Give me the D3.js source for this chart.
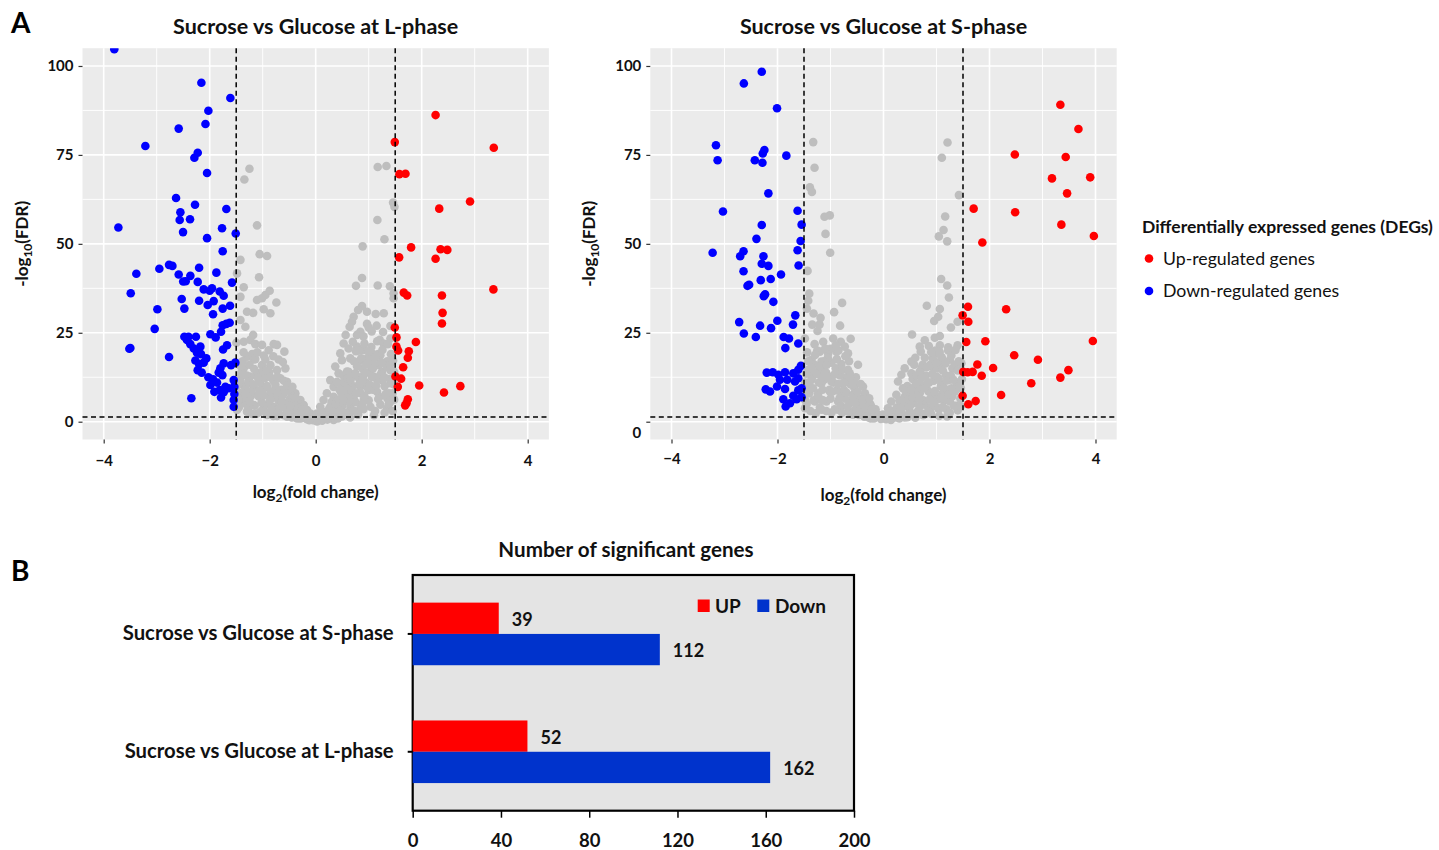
<!DOCTYPE html>
<html><head><meta charset="utf-8">
<script src="https://cdn.jsdelivr.net/npm/d3@7"></script>
<style>body{margin:0;background:#fff} svg{display:block} text{font-family:Lato,'Open Sans',sans-serif}</style>
</head><body><svg id="c" width="1439" height="850"></svg>
<script>
// ---------------- DATA ----------------
const volcanoTitles = ["Sucrose vs Glucose at L-phase", "Sucrose vs Glucose at S-phase"];
const xTicks = [-4, -2, 0, 2, 4];
const xMinorTicks = [-3, -1, 1, 3];
const yTicks = [0, 25, 50, 75, 100];
const yMinorTicks = [12.5, 37.5, 62.5, 87.5];
const fcCut = 1.5;
const fdrCut = 1.3;
const legendTitle = "Differentially expressed genes (DEGs)";
const legendLabels = ["Up-regulated genes", "Down-regulated genes"];

// L-phase: [log2FC, -log10(FDR)]
const L_down = [[-3.80,104.7],[-2.157,95.3],[-1.61,91.0],[-2.025,87.4],[-2.08,83.7],[-2.585,82.4],[-3.214,77.5],[-2.226,75.6],[-2.289,74.2],[-2.05,69.9],[-2.635,62.9],[-2.277,61.0],[-1.686,59.8],[-2.553,58.9],[-2.566,56.7],[-2.371,56.9],[-3.723,54.6],[-2.503,53.3],[-1.767,54.4],[-1.509,52.9],[-2.05,51.6],[-1.755,47.9],[-2.767,44.1],[-2.704,43.8],[-2.95,43.0],[-3.384,41.6],[-2.585,41.4],[-2.2,43.3],[-1.874,41.9],[-2.365,41.0],[-2.50,39.4],[-2.453,39.5],[-2.226,39.3],[-1.579,39.1],[-2.113,37.2],[-1.956,37.5],[-2.0,36.8],[-1.811,36.6],[-1.736,35.4],[-3.49,36.1],[-2.528,34.5],[-2.2,34.0],[-2.038,32.8],[-1.925,33.9],[-1.755,31.8],[-1.616,32.6],[-2.987,31.6],[-2.478,31.8],[-1.937,30.2],[-3.038,26.1],[-1.755,27.1],[-1.686,27.5],[-1.623,27.8],[-1.786,25.3],[-1.987,24.6],[-1.887,23.7],[-3.497,20.7],[-3.516,20.5],[-2.767,18.2],[-2.478,23.9],[-2.40,23.9],[-2.26,23.9],[-2.428,23.0],[-2.365,21.8],[-2.30,20.6],[-2.176,21.1],[-2.24,19.4],[-2.164,19.0],[-1.748,20.3],[-1.673,21.5],[-2.063,17.8],[-2.27,17.2],[-2.2,16.2],[-2.113,16.6],[-2.226,14.5],[-2.151,13.8],[-2.025,12.5],[-1.937,11.9],[-1.862,11.0],[-1.987,10.3],[-1.912,8.4],[-1.811,8.9],[-1.736,8.3],[-1.786,6.8],[-2.346,6.6],[-1.547,4.2],[-1.547,6.1],[-1.535,7.8],[-1.535,9.8],[-1.547,11.7],[-1.516,16.6],[-1.597,15.9],[-1.799,15.0],[-1.736,16.4],[-1.83,13.8],[-1.76,13.1],[-1.704,9.8],[-1.641,9.4]];
const L_up = [[2.262,86.2],[1.492,78.6],[3.36,77.0],[1.58,69.6],[1.694,69.7],[2.912,61.9],[2.331,59.9],[1.80,49.0],[2.356,48.5],[2.483,48.3],[1.574,46.2],[2.262,45.8],[3.353,37.2],[1.662,36.3],[1.726,35.5],[2.382,35.5],[2.394,30.6],[2.382,27.6],[1.492,26.5],[1.524,23.7],[1.89,22.4],[1.524,21.1],[1.555,20.0],[1.757,19.8],[1.738,18.0],[1.65,15.3],[1.505,12.7],[1.612,12.1],[1.549,9.8],[1.953,10.2],[2.42,8.2],[2.729,10.0],[1.738,6.3],[1.713,5.2],[1.688,4.6]];
const L_ns = [[-1.25,71.1],[-1.346,68.1],[-1.107,55.2],[-1.42,45.5],[-1.057,47.1],[-0.918,46.6],[-1.484,41.7],[-1.069,40.6],[-1.358,37.8],[-1.42,35.1],[-1.107,34.2],[-0.95,35.6],[-0.868,36.8],[-1.013,34.7],[-0.742,33.5],[-1.296,30.9],[-1.18,30.6],[-0.981,31.6],[-0.855,30.5],[-1.42,28.6],[-1.327,26.7],[-1.18,24.4],[-1.497,22.2],[-1.358,22.5],[-1.233,23.0],[-1.138,21.8],[-1.013,21.6],[-0.792,21.8],[-0.73,21.6],[-0.887,20.1],[-0.591,19.7],[-1.296,18.3],[-1.17,17.5],[-1.013,15.9],[-0.855,15.9],[-0.73,14.5],[-0.572,15.0],[-1.358,15.0],[-1.233,12.7],[-1.075,13.6],[-0.918,12.7],[-0.667,12.2],[-0.541,11.2],[-1.42,11.7],[-1.327,9.8],[-1.17,9.8],[-0.981,9.4],[-0.761,9.4],[-0.478,9.4],[-0.384,8.0],[-1.42,8.0],[-1.233,7.0],[-1.075,7.2],[-0.855,7.0],[-0.667,6.6],[-0.478,6.6],[-0.289,6.1],[-0.226,4.7],[-1.358,5.2],[-1.17,4.7],[-0.981,4.2],[-0.792,4.2],[-0.604,4.2],[-0.415,4.2],[-0.164,3.3],[-0.10,2.3],[-1.484,3.3],[-1.296,2.8],[-1.107,2.3],[-0.918,1.9],[-0.73,1.6],[-0.541,1.4],[-0.352,0.9],[-0.164,0.7],[-0.038,0.5],[0.025,0.1],
 [1.17,71.6],[1.334,71.9],[1.46,61.6],[1.486,60.4],[1.164,56.7],[1.297,51.3],[0.886,49.3],[0.874,40.4],[0.76,38.2],[1.17,38.3],[1.40,38.1],[1.47,36.1],[1.47,34.7],[0.874,32.5],[0.80,31.4],[0.968,30.9],[1.132,30.3],[1.284,30.5],[0.716,29.5],[0.685,28.1],[0.968,27.5],[1.41,26.9],[0.64,26.7],[0.842,25.3],[1.057,25.4],[1.271,25.2],[0.565,24.4],[0.779,24.4],[1.208,23.0],[1.41,23.4],[0.527,22.0],[0.621,20.6],[0.779,21.1],[0.905,20.2],[1.063,19.2],[1.22,18.7],[0.464,19.2],[0.495,17.3],[0.653,17.8],[0.842,17.3],[1.03,16.9],[1.189,15.9],[1.41,14.5],[0.369,15.5],[0.432,13.6],[0.59,14.1],[0.748,13.6],[0.905,13.1],[1.095,12.7],[1.252,11.7],[1.41,10.8],[0.274,11.7],[0.338,9.8],[0.495,10.8],[0.653,10.3],[0.842,9.8],[1.0,8.9],[1.158,8.4],[1.379,8.0],[1.41,5.6],[1.347,3.7],[0.211,8.0],[0.148,6.1],[0.338,7.0],[0.527,7.0],[0.716,6.6],[0.905,6.1],[1.032,4.2],[0.085,4.2],[0.274,4.2],[0.464,4.2],[0.653,4.2],[0.842,3.7],[0.022,2.3],[0.211,2.3],[0.40,2.2],[0.59,1.9],[-0.04,0.9],[0.148,0.9],[0.338,0.5],
 [-1.45,4],[-1.4,6.5],[-1.35,10],[-1.3,13],[-1.25,16],[-1.2,19],[-1.15,4.5],[-1.1,7.5],[-1.05,11],[-1.0,14],[-0.95,17.5],[-0.9,5],[-0.85,8.5],[-0.8,11.5],[-0.75,3],[-0.7,6],[-0.65,9],[-0.6,11.5],[-0.55,3.5],[-0.5,6],[-0.45,7.5],[-0.4,3],[-0.35,5.5],[-0.3,4],[-0.25,2.5],[-0.2,3.2],[-0.15,1.5],[-0.1,1.2],[-0.05,0.4],[-1.48,8.5],[-1.42,13.5],[-1.38,17],[-1.28,3.5],[-1.22,8.5],[-1.12,13],[-1.02,5.5],[-0.92,10],[-0.88,14],[-0.78,6.8],[-0.68,4],[-0.62,7.5],[-0.52,9],[-0.42,5],[-0.32,2],[-0.22,1.5],[-0.6,1.8],[-0.9,2.5],[-1.2,2.2],[-1.0,3.2],[-0.8,1.6],[-0.45,1.2],[-0.3,0.9],
 [0.05,0.5],[0.1,1.5],[0.15,2.8],[0.2,1],[0.25,3.5],[0.3,5.5],[0.35,2.5],[0.4,6],[0.45,9],[0.5,4.5],[0.55,11],[0.6,7.5],[0.62,14],[0.65,3],[0.7,10],[0.72,17],[0.75,5.5],[0.8,12.5],[0.82,20],[0.85,8],[0.88,15],[0.9,3.5],[0.92,22],[0.95,11],[0.98,18],[1.0,6],[1.02,14],[1.05,21],[1.08,9],[1.1,16],[1.12,3],[1.15,12],[1.18,19],[1.2,7],[1.25,14],[1.28,22],[1.3,10],[1.35,17],[1.38,5],[1.4,12],[1.42,19],[1.45,8],[1.48,14],[0.5,1.5],[0.8,2],[1.1,1.8],[1.3,2.5],[0.35,0.8],[0.65,1.2],[1.45,3],
 [-0.45,2.2],[-0.38,1.6],[-0.27,1.0],[-0.12,0.4],[-0.58,5.2],[-0.72,8.2],[-0.86,6.1],[-1.33,6.8],[-1.46,10.5],[-1.26,10.8],[0.12,0.3],[0.22,0.6],[0.3,1.6],[0.42,0.9],[0.45,3.2],[0.56,2.6],[0.72,3.1],[0.62,5.6],[0.88,5.0],[0.98,9.6],[1.22,4.8],[1.35,6.6],[1.48,10.5],[0.52,13.0],[0.4,11.2],
 [0.32,3.2],[0.38,5.0],[0.44,6.2],[0.48,8.2],[0.52,6.0],[0.58,9.2],[0.6,12.2],[0.66,11.8],[0.68,8.6],[0.74,13.4],[0.76,8.0],[0.78,15.6],[0.82,10.6],[0.86,17.8],[0.88,12.0],[0.92,7.2],[0.94,13.8],[0.96,16.2],[1.0,19.8],[1.02,10.4],[1.06,12.6],[1.08,15.0],[1.12,18.0],[1.14,10.2],[1.16,22.6],[1.18,6.4],[1.22,13.2],[1.24,16.6],[1.26,20.2],[1.3,12.4],[1.32,7.8],[1.34,15.4],[1.36,21.8],[1.4,16.0],[1.44,11.0],[1.46,17.2],[1.48,6.2],[0.9,24.0],[1.0,26.5],[1.15,27.0],[0.76,19.8],[0.7,22.5],
 [-1.46,6.0],[-1.44,11.5],[-1.41,15.5],[-1.36,19.5],[-1.32,8.0],[-1.27,11.2],[-1.24,5.4],[-1.18,10.5],[-1.16,14.8],[-1.14,17.6],[-1.09,12.4],[-1.06,8.8],[-1.04,2.8],[-0.98,7.4],[-0.96,12.2],[-0.93,14.4],[-0.86,12.6],[-0.83,3.6],[-0.76,10.4],[-0.72,12.6],[-0.7,2.4],[-0.64,5.6],[-0.58,8.4],[-0.54,10.2],[-0.48,4.4],[-0.44,9.8],[-0.38,6.8],[-0.34,3.6],[-0.26,3.4],[-0.2,2.0],[-1.1,19.5],[-0.98,18.6],[-0.7,17.5],[-0.62,16.8],[-0.8,18.4]];

// S-phase
const S_down = [[-2.297,98.4],[-2.635,95.1],[-2.009,88.1],[-3.161,77.7],[-3.13,73.5],[-2.247,76.4],[-2.278,75.4],[-2.428,73.5],[-2.284,72.8],[-1.833,74.8],[-2.172,64.2],[-3.029,59.1],[-1.621,59.3],[-2.297,55.3],[-1.545,55.4],[-2.397,51.4],[-1.564,50.8],[-3.224,47.5],[-2.641,47.9],[-2.704,46.5],[-1.621,48.2],[-2.265,46.5],[-2.297,44.4],[-2.172,43.8],[-1.602,43.9],[-2.641,42.3],[-1.934,41.4],[-2.316,39.8],[-2.128,40.1],[-2.535,38.5],[-2.566,38.2],[-2.234,35.8],[-2.259,35.3],[-2.078,33.7],[-1.664,29.9],[-2.723,28.0],[-2.328,27.0],[-2.003,28.4],[-2.122,26.3],[-1.708,27.3],[-2.635,24.8],[-2.409,23.8],[-1.884,23.8],[-1.783,23.4],[-1.608,22.0],[-1.852,20.7],[-2.203,13.8],[-2.09,13.9],[-1.984,13.2],[-1.858,13.9],[-1.702,13.6],[-1.608,14.6],[-1.558,15.7],[-1.953,11.8],[-1.815,11.8],[-1.67,11.3],[-1.608,12.2],[-2.009,9.9],[-1.858,9.2],[-2.222,9.1],[-2.141,8.5],[-1.608,8.8],[-1.545,9.4],[-1.702,7.3],[-1.639,6.3],[-1.89,6.3],[-1.765,5.2],[-1.846,4.3],[-1.545,6.9]];
const S_up = [[3.337,89.1],[3.678,82.3],[2.478,75.1],[3.438,74.4],[3.179,68.4],[3.90,68.7],[3.464,64.2],[1.701,59.9],[2.484,58.9],[3.356,55.4],[3.969,52.2],[1.865,50.4],[1.594,32.3],[2.314,31.6],[1.493,29.9],[1.60,28.1],[1.562,22.4],[1.922,22.6],[3.95,22.7],[2.466,18.7],[2.914,17.4],[1.771,16.1],[2.068,15.1],[3.489,14.5],[1.505,14.0],[1.587,13.9],[1.682,14.0],[1.853,12.9],[3.337,12.4],[2.788,10.8],[2.219,7.5],[1.493,7.3],[1.739,5.8],[1.60,4.9]];
const S_ns = [[-1.326,78.6],[-1.301,71.4],[-1.389,65.9],[-1.351,64.6],[-1.113,57.6],[-1.013,58.0],[-1.094,52.8],[-1.006,47.5],[-1.433,42.4],[-1.401,36.0],[-1.42,34.0],[-1.445,31.8],[-1.32,30.4],[-1.188,29.2],[-0.781,33.4],[-0.932,30.8],[-1.345,27.3],[-1.207,27.3],[-1.245,25.5],[-0.819,27.0],[-1.483,23.4],[-1.138,22.5],[-0.95,23.4],[-0.806,22.5],[-0.619,23.3],[-0.731,21.1],[-1.201,19.7],[-1.044,19.2],[-0.888,19.7],[-0.669,19.2],[-1.357,17.4],[-1.17,16.9],[-0.982,16.6],[-0.794,16.2],[-0.481,16.0],[-1.42,14.6],[-1.232,14.1],[-1.076,13.6],[-0.857,13.6],[-0.637,13.6],[-1.357,11.8],[-1.17,10.8],[-0.982,11.3],[-0.763,10.8],[-0.544,10.8],[-0.387,9.9],[-1.42,9.0],[-1.232,8.0],[-1.013,8.5],[-0.794,8.0],[-0.575,7.6],[-0.356,7.1],[-1.483,6.2],[-1.295,5.7],[-1.076,5.7],[-0.857,5.7],[-0.637,5.2],[-0.418,4.8],[-0.23,4.3],[-1.483,3.8],[-1.17,3.4],[-0.857,3.4],[-0.544,3.2],[-0.293,2.9],[-0.105,2.0],[0.02,1.0],
 [1.208,78.5],[1.101,74.2],[1.423,63.7],[1.164,57.7],[1.133,53.9],[1.044,52.1],[1.202,50.7],[1.088,40.1],[1.202,38.3],[1.234,34.9],[0.817,32.6],[1.063,31.7],[1.032,29.5],[0.956,28.3],[1.398,28.1],[1.272,26.5],[0.539,24.5],[0.779,22.9],[1.063,24.1],[0.968,23.6],[1.398,21.5],[0.684,21.1],[0.855,21.3],[1.063,21.5],[1.221,20.9],[0.703,19.7],[0.981,19.2],[1.095,18.1],[1.253,17.4],[0.526,16.9],[0.716,15.0],[0.905,15.5],[1.095,16.0],[1.347,16.0],[0.40,15.0],[0.337,13.2],[0.526,13.6],[0.779,12.7],[1.0,12.7],[1.253,11.8],[1.095,10.8],[0.274,11.3],[0.368,9.4],[0.589,9.9],[0.81,9.4],[1.284,9.4],[0.242,7.6],[0.463,7.6],[0.684,8.0],[0.905,7.1],[1.032,6.3],[1.253,5.7],[1.379,4.5],[0.147,5.7],[0.337,5.2],[0.558,5.2],[0.779,4.8],[1.032,3.8],[1.19,3.5],[0.084,3.8],[0.274,3.4],[0.495,2.9],[0.716,2.4],[-0.01,2.0],[0.179,1.5],[0.40,1.2],
 [-1.45,5],[-1.4,8],[-1.35,12.5],[-1.3,16],[-1.25,20],[-1.2,4],[-1.15,9],[-1.1,14],[-1.05,18],[-1.0,6.5],[-0.95,11],[-0.9,15],[-0.85,20],[-0.8,4.5],[-0.75,9],[-0.7,12.5],[-0.65,17],[-0.6,6],[-0.55,9.5],[-0.5,3.5],[-0.45,6.5],[-0.4,4.5],[-0.35,8],[-0.3,3],[-0.25,5],[-0.2,2.2],[-0.15,3.5],[-0.1,1.5],[-0.05,0.8],[-1.48,11],[-1.42,17],[-1.32,6],[-1.22,11],[-1.12,17],[-1.02,9],[-0.92,3.5],[-0.82,13],[-0.72,6.5],[-0.62,10.5],[-0.52,12.5],[-0.42,2.5],[-0.32,5.5],[-1.38,3],[-1.08,3],[-0.78,2.5],[-0.58,2],[-0.28,1.2],[-0.18,0.9],
 [0.05,0.7],[0.1,1.8],[0.15,3],[0.2,1.2],[0.25,4],[0.3,6],[0.35,2.3],[0.4,7],[0.45,10],[0.5,4.5],[0.55,12],[0.58,16],[0.6,8],[0.65,3],[0.68,14],[0.7,10.5],[0.75,6],[0.78,18],[0.8,13],[0.85,8.5],[0.88,16],[0.9,4],[0.95,11.5],[0.98,20],[1.0,7],[1.02,15],[1.05,3.5],[1.08,10],[1.1,18],[1.15,6],[1.18,13],[1.22,20],[1.25,9],[1.3,15],[1.33,4.5],[1.38,11],[1.42,17],[1.45,6.5],[1.48,12],[0.45,1.3],[0.75,1.8],[1.05,1.6],[1.25,2.5],[0.3,0.9],[0.6,1.1],[1.4,3.2],[0.9,2.2],[1.2,1.5],
 [-0.46,1.9],[-0.36,1.4],[-0.24,0.9],[-0.66,2.8],[-0.98,2.6],[-1.28,2.4],[-1.46,8.5],[-1.18,6.2],[-0.88,8.8],[-0.68,4.2],[-1.38,14.2],[-1.12,11.8],[0.14,0.5],[0.26,1.2],[0.52,2.4],[0.68,4.3],[0.84,2.9],[0.96,5.5],[1.12,4.2],[1.3,7.2],[1.46,9.5],[1.12,8.1],[0.86,11.0],[0.64,9.8],[0.38,4.3],
 [-1.46,13.5],[-1.44,19.5],[-1.4,11.0],[-1.36,15.2],[-1.33,9.4],[-1.29,18.8],[-1.26,13.4],[-1.24,7.2],[-1.19,15.6],[-1.16,12.4],[-1.14,6.0],[-1.07,16.0],[-1.04,12.6],[-1.0,20.5],[-0.97,8.4],[-0.93,13.2],[-0.88,17.6],[-0.86,10.6],[-0.83,6.6],[-0.77,14.6],[-0.74,11.0],[-0.7,8.2],[-0.67,14.6],[-0.63,12.4],[-0.57,7.4],[-0.53,5.2],[-0.49,8.4],[-0.43,10.6],[-0.39,6.2],[-0.33,3.8],[-0.27,6.6],[-0.22,3.4],[-1.3,21.8],[-1.1,20.6],[-0.9,21.5],[-0.72,18.4],
 [0.28,2.2],[0.33,3.8],[0.38,5.8],[0.42,8.6],[0.47,6.2],[0.52,9.0],[0.55,6.8],[0.62,10.8],[0.63,13.0],[0.67,6.4],[0.72,12.4],[0.74,16.0],[0.77,9.4],[0.82,15.4],[0.84,11.0],[0.87,6.2],[0.92,13.4],[0.93,17.8],[0.97,8.6],[1.0,16.6],[1.04,12.2],[1.06,19.6],[1.08,6.8],[1.12,14.4],[1.14,9.6],[1.17,16.4],[1.2,11.6],[1.23,7.6],[1.27,13.0],[1.28,18.6],[1.32,11.8],[1.35,8.6],[1.36,20.2],[1.4,14.4],[1.43,10.0],[1.47,16.4],[1.46,4.4],[0.6,18.0],[0.9,19.6]];

// Bar chart
const barTitle = "Number of significant genes";
const barCategories = ["Sucrose vs Glucose at S-phase", "Sucrose vs Glucose at L-phase"];
const barSeries = ["UP", "Down"];
const barUp = [39, 52];
const barDown = [112, 162];
const barTicks = [0, 40, 80, 120, 160, 200];

// ---------------- DRAW ----------------
const svg = d3.select("#c");
const F = "Lato, 'Open Sans', sans-serif";
const RED = "#FF0000", BLUE = "#0000FF", GREY = "#BEBEBE";
const BAR_RED = "#FF0000", BAR_BLUE = "#0033CC";

svg.append("text").attr("x", 11).attr("y", 33).attr("font-family", "'Liberation Sans', Arial, sans-serif")
  .attr("font-weight", "bold").attr("font-size", 28).text("A");
svg.append("text").attr("x", 11).attr("y", 581).attr("font-family", "'Liberation Sans', Arial, sans-serif")
  .attr("font-weight", "bold").attr("font-size", 28).text("B");

function volcano(idx, cfg) {
  const x = d3.scaleLinear().domain([-4.4, 4.4]).range([cfg.cx - 233.2, cfg.cx + 233.2]);
  const y = d3.scaleLinear().domain([-5, 105]).range([439.5, 48.2]);
  const g = svg.append("g");
  const [x0, x1] = x.range(), [y0, y1] = y.range();
  g.append("rect").attr("x", x0).attr("y", y1).attr("width", x1 - x0).attr("height", y0 - y1).attr("fill", "#EBEBEB");
  g.selectAll(".mnx").data(xMinorTicks).join("line").attr("x1", d => x(d)).attr("x2", d => x(d))
    .attr("y1", y1).attr("y2", y0).attr("stroke", "#fff").attr("stroke-width", 0.9);
  g.selectAll(".mny").data(yMinorTicks).join("line").attr("y1", d => y(d)).attr("y2", d => y(d))
    .attr("x1", x0).attr("x2", x1).attr("stroke", "#fff").attr("stroke-width", 0.9);
  g.selectAll(".mjx").data(xTicks).join("line").attr("x1", d => x(d)).attr("x2", d => x(d))
    .attr("y1", y1).attr("y2", y0).attr("stroke", "#fff").attr("stroke-width", 1.6);
  g.selectAll(".mjy").data(yTicks).join("line").attr("y1", d => y(d)).attr("y2", d => y(d))
    .attr("x1", x0).attr("x2", x1).attr("stroke", "#fff").attr("stroke-width", 1.6);

  const clipId = "clip" + idx;
  svg.append("clipPath").attr("id", clipId).append("rect").attr("x", x0).attr("y", y1).attr("width", x1 - x0).attr("height", y0 - y1);
  const pts = g.append("g").attr("clip-path", `url(#${clipId})`);
  [[cfg.ns, GREY], [cfg.down, BLUE], [cfg.up, RED]].forEach(([arr, col]) => {
    pts.append("g").selectAll("circle").data(arr).join("circle")
      .attr("cx", d => x(d[0])).attr("cy", d => y(d[1])).attr("r", 4.3).attr("fill", col);
  });
  // threshold lines
  [-fcCut, fcCut].forEach(v => g.append("line").attr("x1", x(v)).attr("x2", x(v)).attr("y1", y1).attr("y2", y0)
    .attr("stroke", "#000").attr("stroke-width", 1.5).attr("stroke-dasharray", "5,3.5"));
  g.append("line").attr("x1", x0).attr("x2", x1).attr("y1", y(fdrCut)).attr("y2", y(fdrCut))
    .attr("stroke", "#000").attr("stroke-width", 1.5).attr("stroke-dasharray", "5,3.5");

  // axes
  const ya = g.append("g").attr("transform", `translate(${x0},0)`)
    .call(d3.axisLeft(y).tickValues(yTicks).tickSize(4).tickPadding(5));
  ya.select(".domain").remove();
  ya.selectAll("line").attr("stroke", "#333").attr("stroke-width", 1.2);
  ya.selectAll("text").attr("font-family", F).attr("font-weight", "bold").attr("font-size", 15).attr("fill", "#111");
  if (cfg.zeroShift) ya.selectAll(".tick").filter(d => d === 0).select("text").attr("dy", "1.05em");

  const xa = g.append("g").attr("transform", `translate(0,${y0})`)
    .call(d3.axisBottom(x).tickValues(xTicks).tickSize(4).tickPadding(cfg.xPad));
  xa.select(".domain").remove();
  xa.selectAll("line").attr("stroke", "#333").attr("stroke-width", 1.2);
  xa.selectAll("text").attr("font-family", F).attr("font-weight", "bold").attr("font-size", 15).attr("fill", "#111");

  // title
  g.append("text").attr("x", cfg.cx).attr("y", 34).attr("text-anchor", "middle").attr("font-family", F)
    .attr("font-weight", "bold").attr("font-size", 21.5).attr("fill", "#111").text(volcanoTitles[idx]);
  // x title
  const xt = g.append("text").attr("x", cfg.cx).attr("y", cfg.xTitleY).attr("text-anchor", "middle").attr("font-family", F)
    .attr("font-weight", "bold").attr("font-size", 17).attr("fill", "#111");
  xt.append("tspan").text("log");
  xt.append("tspan").attr("font-size", 12).attr("dy", 4).text("2");
  xt.append("tspan").attr("dy", -4).text("(fold change)");
  // y title
  const yt = g.append("text").attr("transform", `translate(${cfg.yTitleX},${(y0 + y1) / 2}) rotate(-90)`)
    .attr("text-anchor", "middle").attr("font-family", F).attr("font-weight", "bold").attr("font-size", 17).attr("fill", "#111");
  yt.append("tspan").text("-log");
  yt.append("tspan").attr("font-size", 12).attr("dy", 4).text("10");
  yt.append("tspan").attr("dy", -4).text("(FDR)");
}

volcano(0, { cx: 315.7, up: L_up, down: L_down, ns: L_ns, yTitleX: 28, xTitleY: 498, xPad: 12, zeroShift: false });
volcano(1, { cx: 883.5, up: S_up, down: S_down, ns: S_ns, yTitleX: 595, xTitleY: 501, xPad: 10, zeroShift: true });

// legend for volcano
const lg = svg.append("g");
lg.append("text").attr("x", 1142).attr("y", 233).attr("font-family", F).attr("font-weight", "bold")
  .attr("font-size", 17.5).attr("fill", "#111").text(legendTitle);
[RED, BLUE].forEach((c, i) => {
  lg.append("circle").attr("cx", 1149).attr("cy", 258.5 + i * 32.5).attr("r", 4.3).attr("fill", c);
  lg.append("text").attr("x", 1163).attr("y", 258.5 + i * 32.5).attr("dy", "0.36em").attr("font-family", F)
    .attr("font-size", 17.7).attr("fill", "#111").text(legendLabels[i]);
});

// ---------------- BAR CHART ----------------
const bx = d3.scaleLinear().domain([0, 200]).range([412.7, 854]);
const by = d3.scaleBand().domain(barCategories).range([575, 810.7]);
const bg = svg.append("g");
bg.append("rect").attr("x", bx(0)).attr("y", 575).attr("width", bx(200) - bx(0)).attr("height", 810.7 - 575)
  .attr("fill", "#E4E4E4").attr("stroke", "#000").attr("stroke-width", 2.2);
const barH = 31.3;
barCategories.forEach((c, i) => {
  const cy = by(c) + by.bandwidth() / 2;
  bg.append("rect").attr("x", bx(0)).attr("y", cy - barH).attr("width", bx(barUp[i]) - bx(0)).attr("height", barH).attr("fill", BAR_RED);
  bg.append("rect").attr("x", bx(0)).attr("y", cy).attr("width", bx(barDown[i]) - bx(0)).attr("height", barH).attr("fill", BAR_BLUE);
  bg.append("text").attr("x", bx(barUp[i]) + 13).attr("y", cy - barH / 2 + 1).attr("dy", "0.36em").attr("font-family", F)
    .attr("font-weight", "bold").attr("font-size", 18).attr("fill", "#111").text(barUp[i]);
  bg.append("text").attr("x", bx(barDown[i]) + 13).attr("y", cy + barH / 2 + 1).attr("dy", "0.36em").attr("font-family", F)
    .attr("font-weight", "bold").attr("font-size", 18).attr("fill", "#111").text(barDown[i]);
});
const bya = bg.append("g").attr("transform", `translate(${bx(0)},0)`).call(d3.axisLeft(by).tickSize(5).tickPadding(14));
bya.select(".domain").remove();
bya.selectAll("line").attr("stroke", "#000").attr("stroke-width", 2);
bya.selectAll("text").attr("font-family", F).attr("font-weight", "bold").attr("font-size", 20.3).attr("fill", "#111");
const bxa = bg.append("g").attr("transform", `translate(0,810.7)`).call(d3.axisBottom(bx).tickValues(barTicks).tickSize(7).tickPadding(16));
bxa.select(".domain").remove();
bxa.selectAll("line").attr("stroke", "#000").attr("stroke-width", 1.5);
bxa.selectAll("text").attr("font-family", F).attr("font-weight", "bold").attr("font-size", 18.5).attr("fill", "#111");
bg.append("text").attr("x", 626).attr("y", 557).attr("text-anchor", "middle").attr("font-family", F)
  .attr("font-weight", "bold").attr("font-size", 20.6).attr("fill", "#111").text(barTitle);
// bar legend
[[BAR_RED, 697.7, 715], [BAR_BLUE, 757.3, 775]].forEach(([c, sx, tx], i) => {
  bg.append("rect").attr("x", sx).attr("y", 599.5).attr("width", 12).attr("height", 12.5).attr("fill", c);
  bg.append("text").attr("x", tx).attr("y", 605.7).attr("dy", "0.36em").attr("font-family", F)
    .attr("font-weight", "bold").attr("font-size", 19).attr("fill", "#111").text(barSeries[i]);
});
</script></body></html>
